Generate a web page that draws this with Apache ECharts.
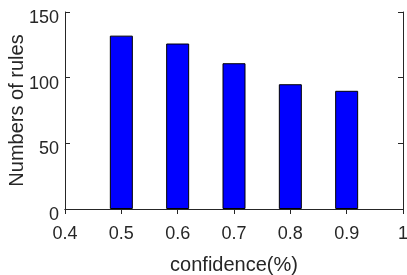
<!DOCTYPE html>
<html>
<head>
<meta charset="utf-8">
<script src="https://cdn.jsdelivr.net/npm/echarts@6/dist/echarts.min.js"></script>
<style>html,body{margin:0;padding:0;background:#fff}#c{width:407px;height:275px}</style>
</head>
<body>
<div id="c"></div>
<script>
const confidence = [0.5, 0.6, 0.7, 0.8, 0.9];
const ruleCounts = [132, 126, 111, 95, 90];
const xTicks = { min: 0.4, max: 1, interval: 0.1 };
const yTicks = { min: 0, max: 150, interval: 50 };
const xName = 'confidence(%)';
const yName = 'Numbers of rules';

const chart = echarts.init(document.getElementById('c'), null, { renderer: 'canvas' });
const ink = '#262626';
const font = 'Liberation Sans, Arial, sans-serif';
const lineStyle = { color: ink, width: 1 };
chart.setOption({
  animation: false,
  grid: { left: 65, right: 4, top: 12, bottom: 66, containLabel: false, outerBoundsMode: 'none' },
  xAxis: [{
    type: 'value', min: xTicks.min, max: xTicks.max, interval: xTicks.interval,
    name: xName, nameLocation: 'middle', nameGap: 46, nameMoveOverlap: false,
    nameTextStyle: { color: ink, fontSize: 20, fontFamily: font },
    axisLine: { show: true, onZero: false, lineStyle },
    axisTick: { show: true, inside: true, length: 5, lineStyle },
    axisLabel: { color: ink, fontSize: 18, fontFamily: font, margin: 16 },
    splitLine: { show: false }
  }, {
    type: 'value', position: 'top', min: xTicks.min, max: xTicks.max, interval: xTicks.interval,
    axisLine: { show: true, lineStyle },
    axisTick: { show: true, inside: true, length: 5, lineStyle },
    axisLabel: { show: false }, splitLine: { show: false }
  }],
  yAxis: [{
    type: 'value', min: yTicks.min, max: yTicks.max, interval: yTicks.interval,
    name: yName, nameLocation: 'middle', nameGap: 38, nameMoveOverlap: false,
    nameTextStyle: { color: ink, fontSize: 20, fontFamily: font },
    axisLine: { show: true, lineStyle },
    axisTick: { show: true, inside: true, length: 5, lineStyle },
    axisLabel: {
      color: ink, fontSize: 18, fontFamily: font, margin: 6,
      formatter: v => '{a|' + v + '}',
      rich: { a: { color: ink, fontSize: 18, fontFamily: font, padding: [12, 0, 0, 0] } }
    },
    splitLine: { show: false }
  }, {
    type: 'value', position: 'right', min: yTicks.min, max: yTicks.max, interval: yTicks.interval,
    axisLine: { show: true, lineStyle },
    axisTick: { show: true, inside: true, length: 5, lineStyle },
    axisLabel: { show: false }, splitLine: { show: false }
  }],
  series: [{
    type: 'bar', xAxisIndex: 0, yAxisIndex: 0,
    data: confidence.map((c, i) => [c, ruleCounts[i]]),
    barWidth: 23,
    itemStyle: { color: '#0000ff', borderColor: '#000', borderWidth: 1 }
  }]
});
</script>
</body>
</html>
